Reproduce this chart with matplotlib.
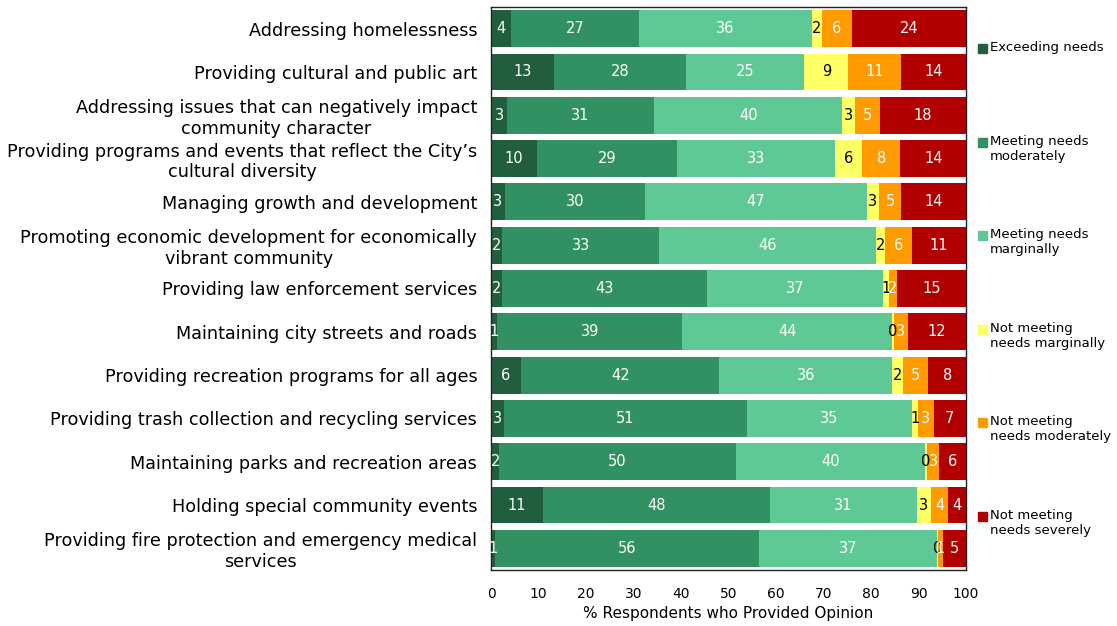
import numpy as np
import matplotlib.pyplot as plt
from matplotlib.patches import Rectangle

services = [
    "Addressing homelessness",
    "Providing cultural and public art",
    "Addressing issues that can negatively impact\ncommunity character",
    "Providing programs and events that reflect the City\u2019s\ncultural diversity",
    "Managing growth and development",
    "Promoting economic development for economically\nvibrant community",
    "Providing law enforcement services",
    "Maintaining city streets and roads",
    "Providing recreation programs for all ages",
    "Providing trash collection and recycling services",
    "Maintaining parks and recreation areas",
    "Holding special community events",
    "Providing fire protection and emergency medical\nservices",
]

# % of respondents per rating, one list per rating level
exceeding = [4.2, 13.3, 3.4, 9.7, 2.9, 2.4, 2.4, 1.3, 6.3, 2.7, 1.7, 11.0, 0.8]
meeting_moderately = [27.0, 27.8, 30.9, 29.4, 29.6, 33.0, 43.0, 39.0, 41.8, 51.1, 49.8, 47.7, 55.7]
meeting_marginally = [36.3, 24.9, 39.7, 33.4, 46.6, 45.6, 37.1, 44.1, 36.3, 34.8, 39.9, 30.9, 37.4]
not_marginally = [2.1, 9.2, 2.6, 5.7, 2.6, 1.9, 1.3, 0.4, 2.3, 1.3, 0.4, 3.1, 0.2]
not_moderately = [6.4, 11.2, 5.3, 8.0, 4.7, 5.7, 1.6, 3.0, 5.4, 3.3, 2.6, 3.6, 1.0]
not_severely = [24.0, 13.6, 18.1, 13.8, 13.6, 11.4, 14.6, 12.2, 7.9, 6.8, 5.6, 3.7, 4.9]

levels = [
    "Exceeding needs",
    "Meeting needs\nmoderately",
    "Meeting needs\nmarginally",
    "Not meeting\nneeds marginally",
    "Not meeting\nneeds moderately",
    "Not meeting\nneeds severely",
]
series = [exceeding, meeting_moderately, meeting_marginally,
          not_marginally, not_moderately, not_severely]
colors = ["#215e3e", "#319162", "#5ec994", "#ffff66", "#ff9a00", "#b20000"]
text_colors = ["white", "white", "white", "black", "white", "white"]

plt.rc("font", family="DejaVu Sans")

fig = plt.figure(figsize=(11.17, 6.26), dpi=100)
ax = fig.add_axes([0.4396, 0.0895, 0.4252, 0.8993])

y = np.arange(len(services))
left = np.zeros(len(services))
for values, color, tcolor in zip(series, colors, text_colors):
    values = np.array(values)
    bars = ax.barh(y, values, left=left, height=0.85, color=color, edgecolor="none")
    labels = ax.bar_label(bars, fmt="{:.0f}", label_type="center",
                          color=tcolor, fontsize=10.5)
    for t in labels:
        t.set_clip_on(True)
    left += values

ax.set_xlim(0, 100)
ax.set_ylim(len(services) - 0.5, -0.5)
ax.set_xticks(np.arange(0, 101, 10))
ax.set_yticks(y)
ax.set_yticklabels(services, fontsize=12.7, linespacing=1.2)
for lbl in ax.get_yticklabels():
    lbl.set_multialignment("center")
ax.tick_params(axis="both", length=0)
ax.tick_params(axis="y", pad=10)
ax.tick_params(axis="x", labelsize=10, pad=12)
ax.set_xlabel("% Respondents who Provided Opinion", fontsize=11, labelpad=4)
for spine in ax.spines.values():
    spine.set_color("#222222")
    spine.set_linewidth(1.0)

# legend entries stacked down the right side
fw, fh = fig.get_size_inches() * fig.dpi
for i, (name, color) in enumerate(zip(levels, colors)):
    yc = 1 - (48 + i * 93.6) / fh
    fig.patches.append(Rectangle((978 / fw, yc - 5 / fh), 9 / fw, 9 / fh,
                                 transform=fig.transFigure, color=color))
    fig.text(990 / fw, yc + 7 / fh, name, fontsize=9.5, va="top", ha="left",
             linespacing=1.2)

fig.savefig("out.png", dpi=100)
